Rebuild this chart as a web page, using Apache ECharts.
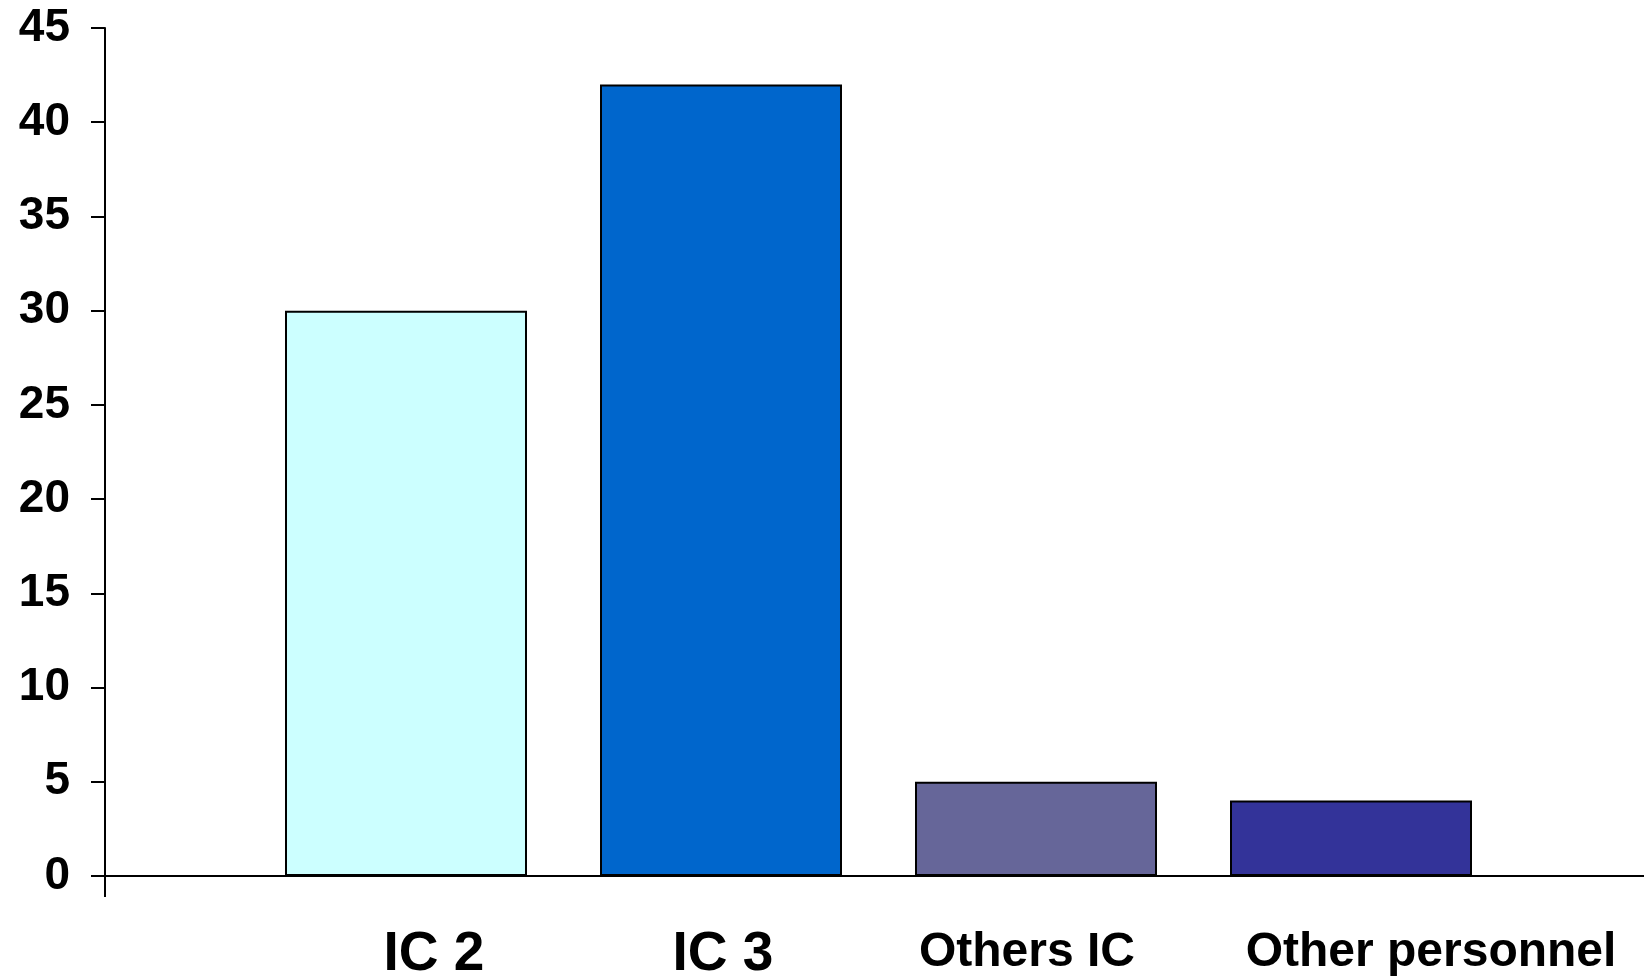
<!DOCTYPE html>
<html>
<head>
<meta charset="utf-8">
<script src="https://cdn.jsdelivr.net/npm/echarts@6/dist/echarts.min.js"></script>
<style>
html,body{margin:0;padding:0;background:#fff;}
#chart{width:1644px;height:977px;}
</style>
</head>
<body>
<div id="chart"></div>
<script>
// ---- data ----
const categories = ['IC 2', 'IC 3', 'Others IC', 'Other personnel'];
const values = [30, 42, 5, 4];
const yMin = 0;
const yMax = 45;
const yStep = 5;

// ---- styles ----
const barColors = ['#CCFFFF', '#0066CC', '#666699', '#333399'];
const FONT = '"Liberation Sans", Arial, Helvetica, sans-serif';
const labelRich = {
  s0: { fontSize: 55, padding: [0, 0, 0, 56] },
  s1: { fontSize: 55, padding: [0, 0, 0, 4] },
  s2: { fontSize: 48, padding: [2, 18, 0, 0] },
  s3: { fontSize: 48, padding: [2, 0, 0, 160] }
};
Object.keys(labelRich).forEach(k => {
  Object.assign(labelRich[k], { fontFamily: FONT, fontWeight: 'bold', color: '#000' });
});

const chart = echarts.init(document.getElementById('chart'), null, { renderer: 'canvas' });
chart.setOption({
  animation: false,
  backgroundColor: '#fff',
  grid: [
    { left: 248.5, right: 135.5, top: 28, bottom: 101, containLabel: false, outerBoundsMode: 'none' },
    { left: 105, right: -2, top: 28, bottom: 101, containLabel: false, outerBoundsMode: 'none' }
  ],
  xAxis: [
    {
      type: 'category', gridIndex: 0, data: categories,
      axisLine: { show: false }, axisTick: { show: false },
      axisLabel: {
        interval: 0, margin: 51,
        formatter: (v, i) => '{s' + i + '|' + v + '}',
        rich: labelRich
      }
    },
    {
      type: 'value', gridIndex: 1, min: 0, max: 1, interval: 1,
      axisLine: { show: true, lineStyle: { color: '#000', width: 2 } },
      axisTick: { show: true, length: 21, lineStyle: { color: '#000', width: 2 } },
      axisLabel: { show: false }, splitLine: { show: false }
    }
  ],
  yAxis: [
    {
      type: 'value', gridIndex: 0, min: yMin, max: yMax, interval: yStep,
      show: false, splitLine: { show: false }
    },
    {
      type: 'value', gridIndex: 1, min: yMin, max: yMax, interval: yStep,
      axisLine: { show: true, lineStyle: { color: '#000', width: 2 } },
      axisTick: { show: true, length: 14, lineStyle: { color: '#000', width: 2 } },
      axisLabel: { margin: 35, fontSize: 46, fontWeight: 'bold', fontFamily: FONT, color: '#000' },
      splitLine: { show: false }
    }
  ],
  series: [
    {
      type: 'bar', xAxisIndex: 0, yAxisIndex: 0,
      barWidth: 242,
      data: values.map((v, i) => ({
        value: v,
        itemStyle: { color: barColors[i], borderColor: '#000', borderWidth: 2 }
      }))
    }
  ]
});
</script>
</body>
</html>
